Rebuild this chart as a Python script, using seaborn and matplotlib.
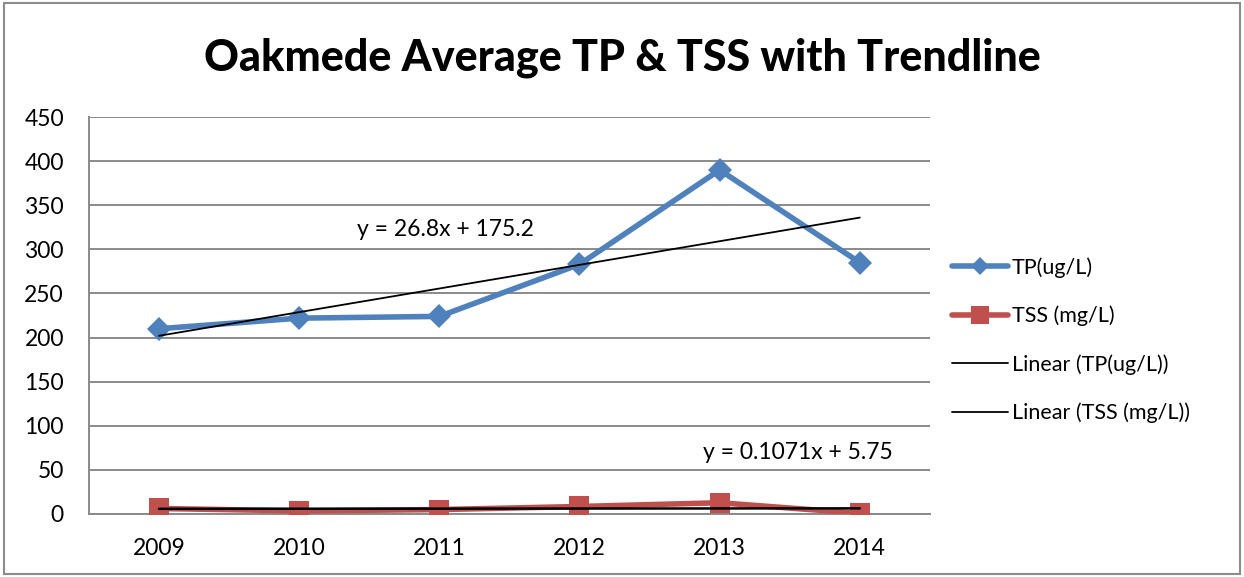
import matplotlib
matplotlib.use("Agg")
import matplotlib.pyplot as plt
from matplotlib.patches import Rectangle
from matplotlib.lines import Line2D
import seaborn as sns
import numpy as np
import pandas as pd

years = ["2009", "2010", "2011", "2012", "2013", "2014"]
tp_values = [210, 222, 224, 283, 390, 285]
tss_values = [6.25, 3.5, 5.0, 8.5, 12.75, 0.75]
tp_trend = [26.8, 175.2]        # slope, intercept
tss_trend = [0.1071, 5.75]
series_names = ["TP(ug/L)", "TSS (mg/L)"]
y_ticks = [0, 50, 100, 150, 200, 250, 300, 350, 400, 450]

sns.set_theme(style="white")
plt.rcParams["font.family"] = ["Lato", "DejaVu Sans"]
plt.rcParams["text.color"] = "black"

fig = plt.figure(figsize=(12.44, 5.77), dpi=100)
fig.patches.append(Rectangle((0.003, 0.005), 0.994, 0.99, transform=fig.transFigure,
                             fill=False, edgecolor="#8c8c8c", linewidth=1.5))
ax = fig.add_axes([0.0715, 0.1092, 0.676, 0.688])

pos = np.arange(len(years))
df = pd.DataFrame({
    "pos": np.concatenate([pos, pos]),
    "value": tp_values + tss_values,
    "series": [series_names[0]] * len(years) + [series_names[1]] * len(years),
})

grid_c = "#8a8a8a"
for t in y_ticks:
    ax.axhline(t, color=grid_c, linewidth=1.4, zorder=0)

sns.lineplot(data=df[df.series == series_names[0]], x="pos", y="value",
             color="#4F81BD", marker="D", linewidth=4, markersize=12.5,
             markeredgewidth=0, ax=ax, legend=False, zorder=3)
sns.lineplot(data=df[df.series == series_names[1]], x="pos", y="value",
             color="#C0504D", marker="s", linewidth=4, markersize=14,
             markeredgewidth=0, ax=ax, legend=False, zorder=3)

xs = np.array([1, 6])
ax.plot(xs - 1, tp_trend[0] * xs + tp_trend[1], color="black", linewidth=1.3, zorder=4)
ax.plot(xs - 1, tss_trend[0] * xs + tss_trend[1], color="black", linewidth=1.8, zorder=4)

ax.text(2.04, 323, "y = 26.8x + 175.2", ha="center", va="center", fontsize=16.5)
ax.text(4.56, 70, "y = 0.1071x + 5.75", ha="center", va="center", fontsize=16.5)

ax.set_xlim(-0.5, 5.5)
ax.set_ylim(0, 450)
ax.set_yticks(y_ticks)
ax.set_yticklabels([str(t) for t in y_ticks], fontsize=16.5)
ax.set_xticks(pos)
ax.set_xticklabels(years, fontsize=16.5)
ax.set_xticks(np.arange(-0.5, 6.0, 1.0), minor=True)
ax.tick_params(axis="x", which="major", length=0, pad=17, labelcolor="black")
ax.tick_params(axis="x", which="minor", length=6, width=1.4, color=grid_c, direction="out")
ax.tick_params(axis="y", which="major", length=6, width=1.4, color=grid_c, direction="out",
               pad=12, labelcolor="black")
ax.set_xlabel("")
ax.set_ylabel("")
for side in ["top", "right"]:
    ax.spines[side].set_visible(False)
for side in ["bottom", "left"]:
    ax.spines[side].set_color(grid_c)
    ax.spines[side].set_linewidth(1.4)

handles = [
    Line2D([], [], color="#4F81BD", marker="D", linewidth=4, markersize=9, markeredgewidth=0),
    Line2D([], [], color="#C0504D", marker="s", linewidth=4, markersize=13, markeredgewidth=0),
    Line2D([], [], color="black", linewidth=1.3),
    Line2D([], [], color="black", linewidth=1.3),
]
labels = series_names + ["Linear (TP(ug/L))", "Linear (TSS (mg/L))"]
fig.legend(handles, labels, loc="upper left", bbox_to_anchor=(0.750, 0.588),
           frameon=False, fontsize=15.5, handlelength=2.6, labelspacing=1.3,
           handletextpad=0.15)

fig.suptitle("Oakmede Average TP & TSS with Trendline", x=0.5, y=0.935,
             fontsize=31, fontweight="black", color="black")

fig.savefig("out.png", dpi=100)
